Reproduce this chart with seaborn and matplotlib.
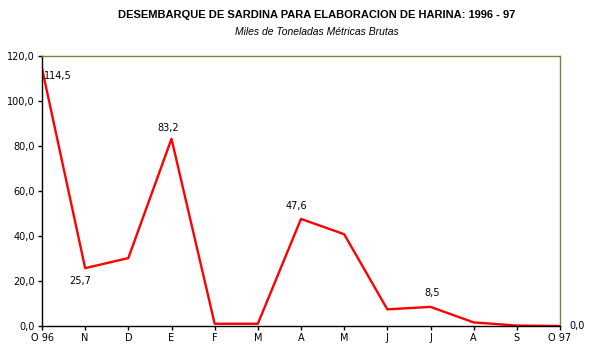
import matplotlib
matplotlib.use("Agg")
import matplotlib.pyplot as plt
import numpy as np
import pandas as pd
import seaborn as sns

meses = ["O 96", "N", "D", "E", "F", "M", "A", "M", "J", "J", "A", "S", "O 97"]
desembarque = [114.5, 25.7, 30.2, 83.2, 1.0, 1.0, 47.6, 40.8, 7.4, 8.5, 1.6, 0.2, 0.0]
etiquetas = {0: "114,5", 1: "25,7", 3: "83,2", 6: "47,6", 9: "8,5", 12: "0,0"}

sns.set_style("white")
plt.rcParams["font.family"] = ["DejaVu Sans"]
plt.rcParams["text.color"] = "black"
plt.rcParams["xtick.color"] = "black"
plt.rcParams["ytick.color"] = "black"

df = pd.DataFrame({"pos": np.arange(len(meses)), "valor": desembarque})

fig = plt.figure(figsize=(5.93, 3.58), dpi=100)
ax = fig.add_axes([42 / 593, 32 / 358, 518 / 593, 270 / 358])

sns.lineplot(data=df, x="pos", y="valor", color="#ff0000", linewidth=1.7, ax=ax)

ax.set_xlim(0, len(meses) - 1)
ax.set_ylim(0, 120)
ax.set_xticks(df["pos"])
ax.set_xticklabels(meses)
ax.set_yticks(np.arange(0, 121, 20))
ax.set_yticklabels([f"{v:.1f}".replace(".", ",") for v in np.arange(0, 121, 20)])
ax.tick_params(axis="both", labelsize=7, length=3, width=1, color="black", direction="out",
               bottom=True, left=True, pad=2)
ax.set_xlabel("")
ax.set_ylabel("")

ax.spines["left"].set_color("black")
ax.spines["bottom"].set_color("black")
ax.spines["top"].set_color("#808040")
ax.spines["right"].set_color("#808040")
for s in ax.spines.values():
    s.set_linewidth(1)

# etiquetas de datos (desplazamiento en pixeles)
offsets = {0: (2, -8, "left"), 1: (-5, -13, "center"), 3: (-3, 11, "center"),
           6: (-5, 13, "center"), 9: (2, 14, "center"), 12: (9, 0, "left")}
for i, txt in etiquetas.items():
    dx, dy, ha = offsets[i]
    ax.annotate(txt, (i, desembarque[i]), xytext=(dx, dy), textcoords="offset pixels",
                ha=ha, va="center", fontsize=7, annotation_clip=False)

fig.text(317 / 593, 1 - 15 / 358, "DESEMBARQUE DE SARDINA PARA ELABORACION DE HARINA: 1996 - 97",
         ha="center", va="center", fontsize=8, fontweight="bold",
         family=["Liberation Sans Narrow", "Liberation Sans", "DejaVu Sans"])
fig.text(317 / 593, 1 - 32 / 358, "Miles de Toneladas Métricas Brutas",
         ha="center", va="center", fontsize=7.5, style="italic",
         family=["Liberation Sans", "DejaVu Sans"])

fig.savefig("out.png", dpi=100)
